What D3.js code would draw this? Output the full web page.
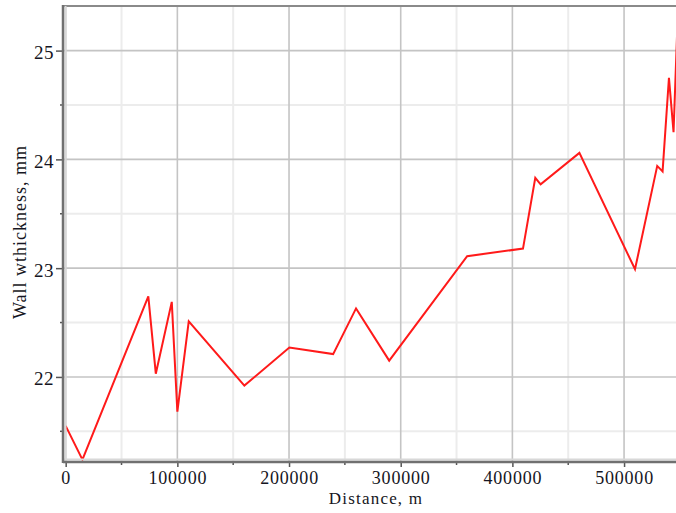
<!DOCTYPE html>
<html>
<head>
<meta charset="utf-8">
<script src="https://cdn.jsdelivr.net/npm/d3@7"></script>
<style>
  html, body { margin: 0; padding: 0; background: #fff; }
  svg { display: block; }
  text { font-family: "Liberation Serif", "Times New Roman", serif; fill: #151522; }
</style>
</head>
<body>
<svg id="chart" width="676" height="513"></svg>
<script>
// Wall thickness measured along the pipeline route
const distance = [0, 15000, 74000, 80700, 95000, 100000, 110200, 160000, 200300, 239500,
                  260000, 289700, 359500, 409500, 420500, 425300, 460000, 509800, 529700,
                  534500, 540200, 544300, 548000];
const thickness = [21.55, 21.24, 22.74, 22.03, 22.69, 21.68, 22.51, 21.92, 22.27, 22.21,
                   22.63, 22.15, 23.11, 23.18, 23.83, 23.77, 24.06, 22.99, 23.94,
                   23.89, 24.75, 24.25, 25.30];

const xMajorTicks = [0, 100000, 200000, 300000, 400000, 500000];
const xMinorTicks = [50000, 150000, 250000, 350000, 450000, 550000];
const yMajorTicks = [22, 23, 24, 25];
const yMinorTicks = [21.5, 22.5, 23.5, 24.5];

const xTitle = "Distance, m";
const yTitle = "Wall wthickness, mm";

const svg = d3.select("#chart");
const pLeft = 63, pRight = 678, pTop = 6, pBottom = 462;

const x = d3.scaleLinear().domain([-2400, 548300]).range([pLeft, pRight]);
const y = d3.scaleLinear().domain([21.218, 25.41]).range([pBottom, pTop]);

// clip region for the plotting area
svg.append("defs").append("clipPath").attr("id", "plot-clip")
  .append("rect").attr("x", pLeft).attr("y", pTop).attr("width", pRight - pLeft).attr("height", pBottom - pTop);

const grid = svg.append("g");
// minor grid
grid.selectAll(".vminor").data(xMinorTicks).join("line")
  .attr("x1", d => x(d)).attr("x2", d => x(d)).attr("y1", pTop).attr("y2", pBottom)
  .attr("stroke", "#ececec").attr("stroke-width", 2);
grid.selectAll(".hminor").data(yMinorTicks).join("line")
  .attr("x1", pLeft).attr("x2", pRight).attr("y1", d => y(d)).attr("y2", d => y(d))
  .attr("stroke", "#ececec").attr("stroke-width", 2);
// major grid
grid.selectAll(".vmajor").data(xMajorTicks).join("line")
  .attr("x1", d => x(d)).attr("x2", d => x(d)).attr("y1", pTop).attr("y2", pBottom)
  .attr("stroke", "#c4c4c4").attr("stroke-width", 1.6);
grid.selectAll(".hmajor").data(yMajorTicks).join("line")
  .attr("x1", pLeft).attr("x2", pRight).attr("y1", d => y(d)).attr("y2", d => y(d))
  .attr("stroke", "#c4c4c4").attr("stroke-width", 1.6);

// top frame
svg.append("line").attr("x1", pLeft).attr("x2", pRight).attr("y1", pTop).attr("y2", pTop)
  .attr("stroke", "#8a8a8a").attr("stroke-width", 2);

// data line
svg.append("path")
  .datum(distance.map((d, i) => [d, thickness[i]]))
  .attr("clip-path", "url(#plot-clip)")
  .attr("fill", "none")
  .attr("stroke", "#ff1a1a")
  .attr("stroke-width", 2)
  .attr("stroke-linejoin", "miter")
  .attr("d", d3.line().x(d => x(d[0])).y(d => y(d[1])));

// axes (with soft shading beside the main line)
svg.append("line").attr("x1", pLeft + 2.5).attr("x2", pLeft + 2.5).attr("y1", pTop).attr("y2", pBottom)
  .attr("stroke", "#d8d8d8").attr("stroke-width", 2);
svg.append("line").attr("x1", pLeft).attr("x2", pRight).attr("y1", pBottom - 2.5).attr("y2", pBottom - 2.5)
  .attr("stroke", "#d8d8d8").attr("stroke-width", 2);

const xAxis = d3.axisBottom(x).tickValues(xMajorTicks).tickSize(5).tickPadding(4.2).tickFormat(d3.format("d"));
const gx = svg.append("g").attr("transform", `translate(0,${pBottom})`).call(xAxis);
gx.select(".domain").remove();
gx.selectAll(".tick line").attr("stroke", "#555").attr("stroke-width", 1.5);
gx.selectAll(".tick text").style("font-size", "18px").style("letter-spacing", "0.8px")
  .attr("font-family", "Liberation Serif, serif");
svg.append("g").attr("transform", `translate(0,${pBottom})`)
  .selectAll("line").data(xMinorTicks.filter(d => x(d) < 676)).join("line")
  .attr("x1", d => x(d)).attr("x2", d => x(d)).attr("y1", 0).attr("y2", 3)
  .attr("stroke", "#555").attr("stroke-width", 1.5);

const yAxis = d3.axisLeft(y).tickValues(yMajorTicks).tickSize(7).tickPadding(2).tickFormat(d3.format("d"));
const gy = svg.append("g").attr("transform", `translate(${pLeft},0)`).call(yAxis);
gy.select(".domain").remove();
gy.selectAll(".tick line").attr("stroke", "#555").attr("stroke-width", 1.5);
gy.selectAll(".tick text").style("font-size", "19px").style("letter-spacing", "0.5px")
  .attr("dy", "0.42em").attr("font-family", "Liberation Serif, serif");
svg.append("g").attr("transform", `translate(${pLeft},0)`)
  .selectAll("line").data(yMinorTicks).join("line")
  .attr("x1", -3).attr("x2", 0).attr("y1", d => y(d)).attr("y2", d => y(d))
  .attr("stroke", "#555").attr("stroke-width", 1.5);

svg.append("line").attr("x1", pLeft).attr("x2", pLeft).attr("y1", pTop - 1).attr("y2", pBottom + 1)
  .attr("stroke", "#707070").attr("stroke-width", 2.5);
svg.append("line").attr("x1", pLeft).attr("x2", pRight).attr("y1", pBottom).attr("y2", pBottom)
  .attr("stroke", "#707070").attr("stroke-width", 2.5);

// axis titles
svg.append("text").attr("x", 376).attr("y", 504).attr("text-anchor", "middle")
  .style("font-size", "17px").style("letter-spacing", "1.2px").text(xTitle);
svg.append("text").attr("transform", `translate(26,${232}) rotate(-90)`).attr("text-anchor", "middle")
  .style("font-size", "18px").style("letter-spacing", "1px").text(yTitle);
</script>
</body>
</html>
